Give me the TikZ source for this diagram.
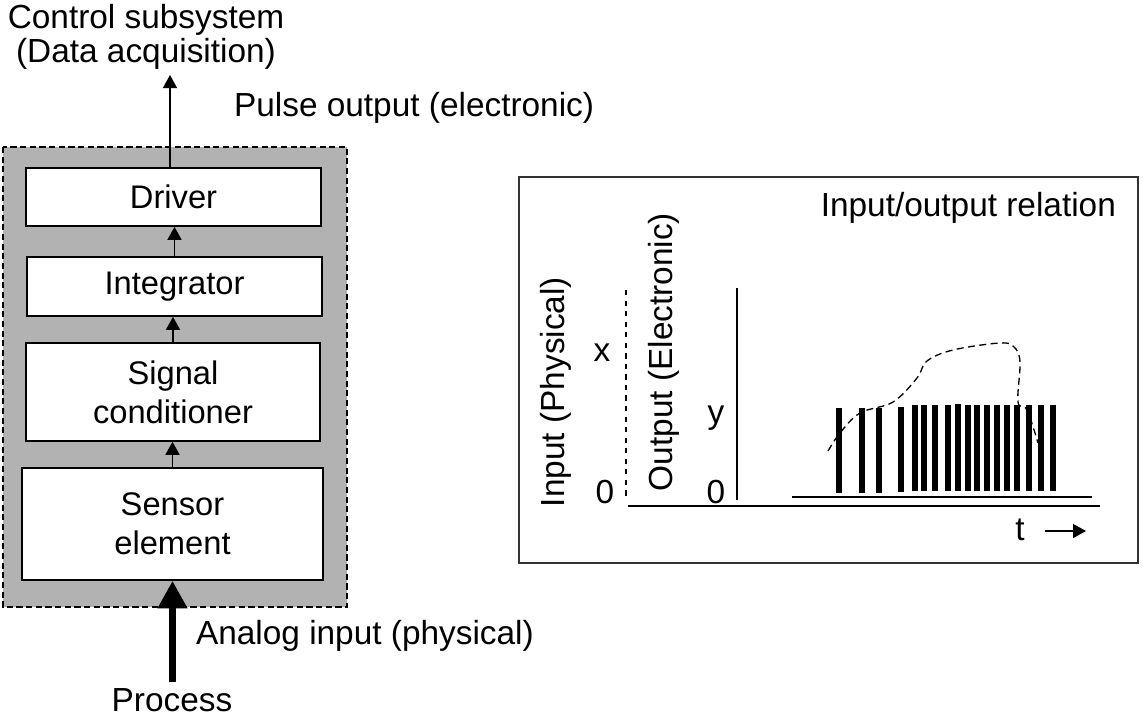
\documentclass[tikz,border=0pt]{standalone}
\usepackage{fontspec}
\setmainfont{Liberation Sans}
\usetikzlibrary{arrows.meta,positioning,calc}
\definecolor{panelgray}{gray}{0.70}

\begin{document}
\begin{tikzpicture}[x=0.02cm, y=-0.02cm,
  block/.style={draw=black, line width=0.9pt, fill=white, align=center,
    font=\fontsize{18.6}{22}\selectfont, inner sep=2pt},
  label/.style={font=\fontsize{19}{20}\selectfont, align=center, inner sep=1pt},
  arr/.style={-{Triangle[length=2.6mm, width=2.8mm]}, line width=0.8pt},
  bigarr/.style={-{Triangle[length=5.5mm, width=5.6mm]}, line width=4pt},
  pulse/.style={line width=3.1pt},
  axis/.style={line width=0.9pt}
]
\useasboundingbox (0,0) rectangle (1143,717);

% sensor subsystem
\draw[dash pattern=on 3.5pt off 2pt, line width=0.8pt, fill=panelgray] (3,147) rectangle (347,607);
\node[block, minimum width=5.9cm, minimum height=1.16cm] (driver) at (173.5,197) {Driver};
\node[block, minimum width=5.9cm, minimum height=1.18cm] (integ) at (174.5,286.5) {Integrator};
\node[block, minimum width=5.88cm, minimum height=1.96cm] (signal) at (173,392) {Signal\\conditioner};
\node[block, minimum width=6.02cm, minimum height=2.24cm] (sensor) at (172.5,524) {Sensor\\element};

\draw[arr] (sensor.north) -- (sensor.north |- signal.south);
\draw[arr] (signal.north) -- (signal.north |- integ.south);
\draw[arr] (integ.north) -- (integ.north |- driver.south);

\node[label, font=\fontsize{19}{19.5}\selectfont] (ctrl) at (146,37) {Control subsystem\\(Data acquisition)};
\draw[arr] (driver.north -| 170,0) -- (170,75);
\node[label, anchor=west] (pulseout) at (232,108) {Pulse output (electronic)};

\node[label] (process) at (172,700) {Process};
\draw[bigarr] (process.north -| sensor.south) ++(0,-4) -- (sensor.south);
\node[label, anchor=west] (analog) at (194,636) {Analog input (physical)};

% input/output relation
\draw[line width=1pt, draw=black!80] (519,177) rectangle (1138,563);
\node[label, anchor=east] (title) at (1118,208) {Input/output relation};

\node[label, rotate=90] (inlab) at (556,392) {Input (Physical)};
\node[label, rotate=90] (outlab) at (664,352) {Output (Electronic)};
\node[label] (xlab) at (602,353) {x};
\node[label] (x0) at (605,492) {0};
\node[label] (ylab) at (716,418) {y};
\node[label] (y0) at (716,492) {0};

\draw[dashed, line width=0.6pt] (626,290) -- (626,500);
\draw[axis] (737,288) -- (737,500);
\draw[axis] (628,506) -- (1100,506);
\draw[axis] (792,497) -- (1092,497);

\foreach \x/\t/\b in {839/408/493, 862/408/493, 879/408/493, 901/407/492,
  915/405/491, 924/405/491, 935/405/491, 948/405/491, 958/404/491,
  968/405/491, 977/405/491, 987/405/491, 997/405/491, 1007/405/491,
  1017/405/491, 1029/405/491, 1041/405/491, 1053/405/491}
  \draw[pulse] (\x,\b) -- (\x,\t);

\draw[dash pattern=on 4pt off 2.5pt, line width=0.75pt] plot[smooth, tension=0.6] coordinates {
  (828,451) (840,433) (860,413) (893,402) (917,378) (927,361) (953,350)
  (1000,343) (1014,347) (1020,362) (1018,402) (1027,410) (1038,443)};

\node[label] (tlab) at (1020,530) {t};
\draw[arr] (1045,531) -- (1086,531);
\end{tikzpicture}
\end{document}
